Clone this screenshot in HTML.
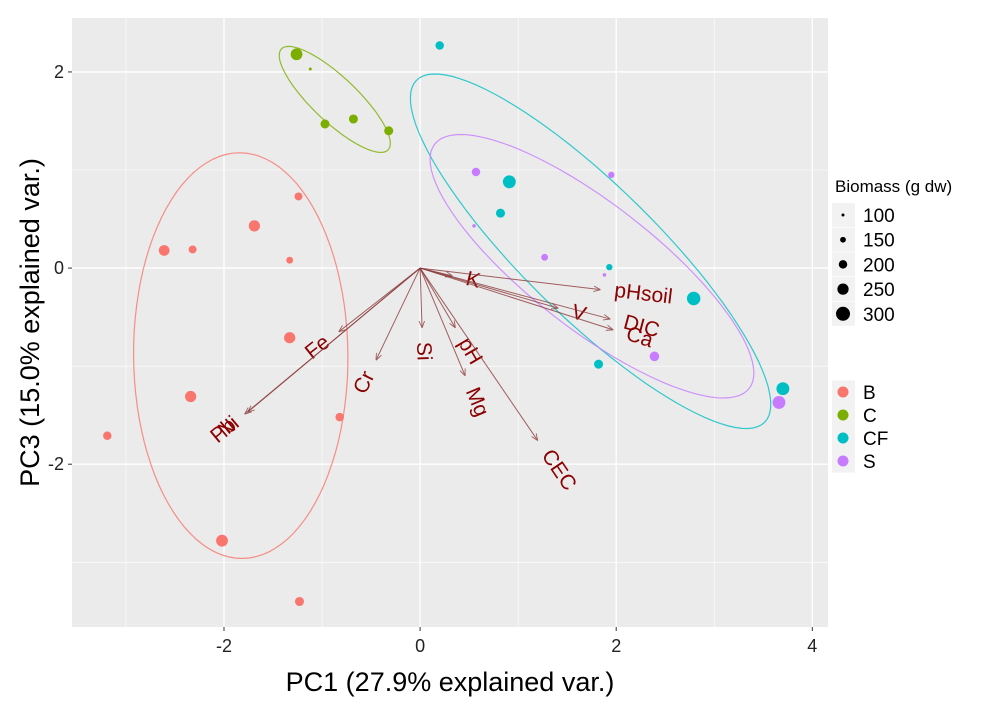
<!DOCTYPE html>
<html><head><meta charset="utf-8"><style>
body{margin:0;background:#fff;}
svg{display:block;font-family:"Liberation Sans",sans-serif;}
</style></head><body>
<svg id="chart" width="1002" height="711" viewBox="0 0 1002 711"></svg>
<script>
// ---- data ----
const groups = ["B","C","CF","S"];
const groupColors = ["#F8766D","#7CAE00","#00BFC4","#C77CFF"];
const scoreGroup = ["B","B","B","B","B","B","B","B","B","B","B","C","C","C","C","C","CF","CF","CF","CF","CF","CF","CF","S","S","S","S","S","S","S"];
const pc1 = [-3.19,-2.61,-2.32,-1.69,-1.24,-1.33,-1.33,-2.34,-0.82,-2.02,-1.23,-1.26,-1.12,-0.97,-0.68,-0.32,0.20,0.91,0.82,1.93,2.79,1.82,3.70,0.57,0.55,1.27,1.95,1.88,2.39,3.66];
const pc3 = [-1.71,0.18,0.19,0.43,0.73,0.08,-0.71,-1.31,-1.52,-2.78,-3.40,2.18,2.03,1.47,1.52,1.40,2.27,0.88,0.56,0.01,-0.31,-0.98,-1.23,0.98,0.43,0.11,0.95,-0.07,-0.90,-1.37];
const biomass = [200,240,190,250,190,170,250,250,200,260,210,260,100,210,210,210,200,280,210,160,290,210,280,200,110,170,160,110,220,280];
const varNames = ["K","pHsoil","V","DIC","Ca","Si","pH","Mg","CEC","Cr","Fe","Ni","Pb"];
const loadX = [0.33,1.84,1.41,1.94,1.97,0.02,0.36,0.46,1.20,-0.45,-0.83,-1.76,-1.79];
const loadY = [-0.08,-0.22,-0.41,-0.52,-0.63,-0.61,-0.61,-1.10,-1.76,-0.94,-0.65,-1.47,-1.49];
const xTicks = [-2,0,2,4];
const yTicks = [-2,0,2];
const sizeBreaks = [100,150,200,250,300];

// ---- axes ----
const L=72,R=828,T=18,B=627;
const xMin=-3.55,xMax=4.16,yMin=-3.66,yMax=2.55;
const sx=v=>L+(v-xMin)/(xMax-xMin)*(R-L);
const sy=v=>B-(v-yMin)/(yMax-yMin)*(B-T);
const rad=b=>1.5+(b-100)/200*5.5;

const NS="http://www.w3.org/2000/svg";
const svg=document.getElementById('chart');
function mk(tag,attrs,parent){const e=document.createElementNS(NS,tag);for(const k in attrs)e.setAttribute(k,attrs[k]);(parent||svg).appendChild(e);return e;}

let e=mk('rect',{x:L,y:T,width:R-L,height:B-T,fill:'#EBEBEB'});


for(let v=-3;v<=4;v++){const x=sx(v);const major=xTicks.includes(v);
 e=mk('line',{x1:x,x2:x,y1:T,y2:B,stroke:'#fff','stroke-width':major?1.3:0.6});
 
 }
for(let v=-3;v<=2;v++){const y=sy(v);const major=yTicks.includes(v);
 e=mk('line',{x1:L,x2:R,y1:y,y2:y,stroke:'#fff','stroke-width':major?1.3:0.6});
 
 }
xTicks.forEach(v=>{const x=sx(v);
 mk('line',{x1:x,x2:x,y1:B,y2:B+4,stroke:'#333','stroke-width':1});
 e=mk('text',{x:x,y:B+25,'text-anchor':'middle','font-size':18,fill:'#222'});e.textContent=v;
 
 });
yTicks.forEach(v=>{const y=sy(v);
 mk('line',{x1:L-4,x2:L,y1:y,y2:y,stroke:'#333','stroke-width':1});
 e=mk('text',{x:L-8,y:y+6,'text-anchor':'end','font-size':18,fill:'#222'});e.textContent=v;
 
 });

// ellipses (68% normal)
const r68=Math.sqrt(2.279);
groups.forEach((g,gi)=>{
 const idx=scoreGroup.map((s,i)=>s===g?i:-1).filter(i=>i>=0);
 const n=idx.length;const mx=idx.reduce((a,i)=>a+pc1[i],0)/n,my=idx.reduce((a,i)=>a+pc3[i],0)/n;
 let sxx=0,syy=0,sxy=0;idx.forEach(i=>{const dx=pc1[i]-mx,dy=pc3[i]-my;sxx+=dx*dx;syy+=dy*dy;sxy+=dx*dy;});
 sxx/=(n-1);syy/=(n-1);sxy/=(n-1);
 const tr=(sxx+syy)/2,d=Math.sqrt(((sxx-syy)/2)**2+sxy*sxy);
 const l1=tr+d,l2=Math.max(tr-d,1e-6);const th=Math.atan2(l1-sxx,sxy||1e-9);
 let pts=[];for(let k=0;k<=100;k++){const t=k/100*2*Math.PI;
  const a=r68*Math.sqrt(l1)*Math.cos(t),b=r68*Math.sqrt(l2)*Math.sin(t);
  const X=mx+a*Math.cos(th)-b*Math.sin(th),Y=my+a*Math.sin(th)+b*Math.cos(th);
  pts.push(sx(X).toFixed(1)+','+sy(Y).toFixed(1));}
 e=mk('polyline',{points:pts.join(' '),fill:'none',stroke:groupColors[gi],'stroke-width':1.2,opacity:0.8});
 
 
});

// points
pc1.forEach((v,i)=>{const gi=groups.indexOf(scoreGroup[i]);
 e=mk('circle',{cx:sx(v),cy:sy(pc3[i]),r:rad(biomass[i]),fill:groupColors[gi]});
 
 });

// arrows
mk('defs',{}).innerHTML='<marker id="ah" viewBox="0 0 10 10" refX="10" refY="5" markerWidth="7" markerHeight="7" orient="auto"><path d="M0,1 L10,5 L0,9" fill="none" stroke="#8B3A3A" stroke-width="1.3"/></marker>';
const ox=sx(0),oy=sy(0);
varNames.forEach((nm,i)=>{const tx=sx(loadX[i]),ty=sy(loadY[i]);
 e=mk('line',{x1:ox,y1:oy,x2:tx,y2:ty,stroke:'#8B3A3A','stroke-width':1,'marker-end':'url(#ah)',opacity:0.8});
 
 
 const dx=tx-ox,dy=ty-oy,len=Math.hypot(dx,dy);
 let ang=Math.atan2(dy,dx)*180/Math.PI;
 const lx=tx+dx/len*14,ly=ty+dy/len*14;
 let anchor='start';
 if(dx<0){ang+=180;anchor='end';}
 e=mk('text',{x:lx,y:ly,'text-anchor':anchor,'dominant-baseline':'middle','font-size':21,fill:'#8B0000',transform:`rotate(${ang.toFixed(1)} ${lx.toFixed(1)} ${ly.toFixed(1)})`});
 e.textContent=nm;
 
 
});

// axis titles
e=mk('text',{x:(L+R)/2,y:691,'text-anchor':'middle','font-size':27,fill:'#000'});e.textContent='PC1 (27.9% explained var.)';


e=mk('text',{x:0,y:0,'text-anchor':'middle','font-size':27,fill:'#000',transform:`translate(39 ${(T+B)/2}) rotate(-90)`});e.textContent='PC3 (15.0% explained var.)';



// size legend
e=mk('text',{x:835,y:192,'font-size':17,fill:'#000'});e.textContent='Biomass (g dw)';


sizeBreaks.forEach((b,k)=>{const y=215+k*24.7;
 mk('rect',{x:832,y:y-12,width:23,height:24,fill:'#F2F2F2'});
 e=mk('circle',{cx:843,cy:y,r:rad(b),fill:'#000'});
 
 
 e=mk('text',{x:863,y:y+7,'font-size':19,fill:'#000'});e.textContent=b;
 
 });
// colour legend
groups.forEach((g,k)=>{const y=392+k*23;
 mk('rect',{x:832,y:y-11.5,width:23,height:23,fill:'#F2F2F2'});
 e=mk('circle',{cx:843,cy:y,r:5.5,fill:groupColors[k]});
 
 
 e=mk('text',{x:863,y:y+7,'font-size':19,fill:'#000'});e.textContent=g;
 
 });
</script>
</body></html>
